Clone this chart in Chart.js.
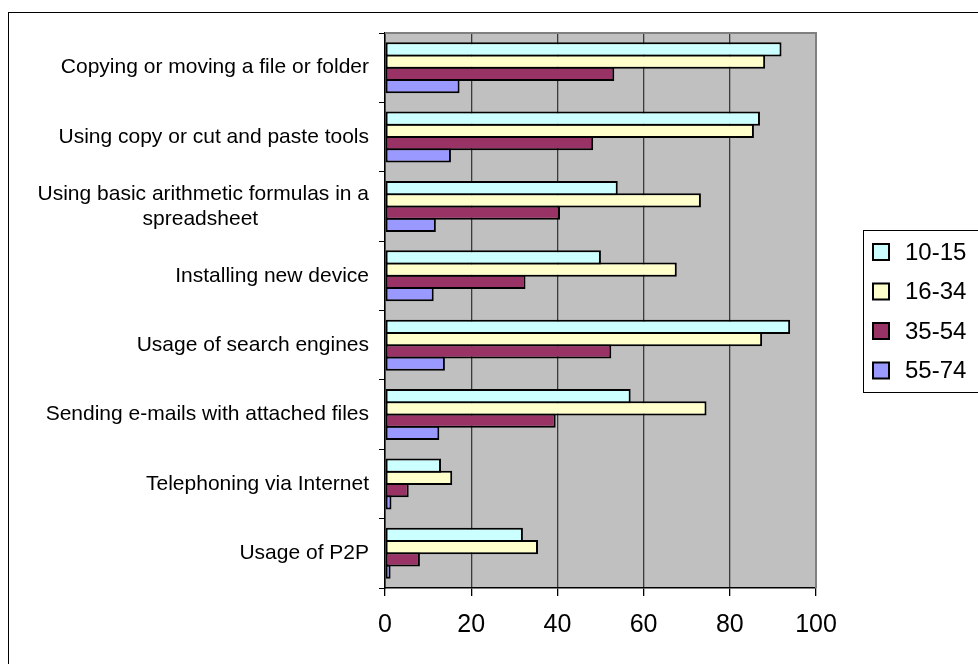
<!DOCTYPE html>
<html><head><meta charset="utf-8">
<script src="https://cdn.jsdelivr.net/npm/chart.js@4/dist/chart.umd.min.js"></script>
<style>html,body{margin:0;padding:0;background:#fff;overflow:hidden}</style>
</head><body>
<canvas id="c" width="978" height="664" style="display:block;width:978px;height:664px"></canvas>
<script>
const categories = [
  'Copying or moving a file or folder',
  'Using copy or cut and paste tools',
  ['Using basic arithmetic formulas in a', 'spreadsheet'],
  'Installing new device',
  'Usage of search engines',
  'Sending e-mails with attached files',
  'Telephoning via Internet',
  'Usage of P2P'
];
const seriesNames = ['10-15', '16-34', '35-54', '55-74'];
const age10to15 = [92.0, 87.0, 54.0, 50.1, 94.0, 57.0, 13.0, 32.0];
const age16to34 = [88.2, 85.6, 73.3, 67.7, 87.5, 74.6, 15.6, 35.5];
const age35to54 = [53.2, 48.3, 40.6, 32.6, 52.5, 39.6, 5.5, 8.1];
const age55to74 = [17.3, 15.3, 11.8, 11.3, 13.9, 12.6, 1.5, 1.3];
const xTickValues = [0, 20, 40, 60, 80, 100];

const seriesValues = [age10to15, age16to34, age35to54, age55to74];
const seriesColors = ['#CCFFFF', '#FFFFCC', '#993366', '#9999FF'];
const FONT = "'Liberation Sans', Arial, sans-serif";
const CAT_SIZE = 21;

const measureCtx = document.createElement('canvas').getContext('2d');
measureCtx.font = CAT_SIZE + 'px ' + FONT;
function centerLines(lines) {
  if (!Array.isArray(lines)) return lines;
  const widths = lines.map(l => measureCtx.measureText(l).width);
  const maxW = Math.max(...widths);
  const sp = measureCtx.measureText(' ').width;
  return lines.map((l, i) => l + ' '.repeat(Math.round((maxW - widths[i]) / 2 / sp)));
}

const decorPlugin = {
  id: 'decor',
  beforeDraw(chart) {
    const {ctx, chartArea: a} = chart;
    ctx.save();
    ctx.fillStyle = '#C0C0C0';
    ctx.fillRect(a.left, a.top, a.right - a.left, a.bottom - a.top);
    // outer chart border (only top/left visible)
    ctx.strokeStyle = '#000';
    ctx.lineWidth = 1;
    ctx.strokeRect(8.5, 12.5, 1100, 1000);
    ctx.restore();
  },
  beforeDatasetsDraw(chart) {
    const {ctx, chartArea: a} = chart;
    ctx.save();
    ctx.strokeStyle = '#808080';
    ctx.lineWidth = 2;
    ctx.beginPath();
    ctx.moveTo(a.left, a.top);
    ctx.lineTo(a.right, a.top);
    ctx.lineTo(a.right, a.bottom);
    ctx.stroke();
    ctx.restore();
  },
  afterDraw(chart) {
    const {ctx} = chart;
    ctx.save();
    const boxX = 863, boxY = 230.5, rowGap = 39.5, firstRow = 252;
    ctx.fillStyle = '#fff';
    ctx.strokeStyle = '#000';
    ctx.lineWidth = 1;
    ctx.fillRect(boxX, boxY, 200, firstRow - boxY + rowGap * 3 + 22);
    ctx.strokeRect(boxX + 0.5, boxY, 200, firstRow - boxY + rowGap * 3 + 22);
    ctx.font = '24px ' + FONT;
    ctx.textBaseline = 'middle';
    ctx.textAlign = 'left';
    chart.data.datasets.forEach((ds, i) => {
      const y = firstRow + i * rowGap;
      ctx.fillStyle = ds.backgroundColor;
      ctx.fillRect(873, y - 8, 16, 16);
      ctx.lineWidth = 2;
      ctx.strokeStyle = '#000';
      ctx.strokeRect(873, y - 8, 16, 16);
      ctx.fillStyle = '#000';
      ctx.fillText(ds.label, 905, y + 1);
    });
    ctx.restore();
  }
};

new Chart(document.getElementById('c'), {
  type: 'bar',
  data: {
    labels: categories,
    datasets: seriesNames.map((name, i) => ({
      label: name,
      data: seriesValues[i],
      backgroundColor: seriesColors[i],
      borderColor: '#000',
      borderWidth: 2,
      borderSkipped: false,
      categoryPercentage: 0.706,
      barPercentage: 1.163
    }))
  },
  options: {
    indexAxis: 'y',
    responsive: false,
    animation: false,
    devicePixelRatio: 1,
    layout: {padding: {left: 0, right: 162, top: 33, bottom: 0}},
    plugins: {legend: {display: false}, tooltip: {enabled: false}},
    scales: {
      x: {
        min: 0, max: 100,
        afterBuildTicks: axis => { axis.ticks = xTickValues.map(v => ({value: v})); },
        afterFit: s => { s.height = 76; },
        grid: {
          color: ctx => (ctx.tick && ctx.tick.value === 100) ? '#808080' : '#3a3a3a',
          lineWidth: 1.3,
          tickLength: 8,
          tickColor: '#000',
          drawTicks: true
        },
        border: {display: true, color: '#000', width: 1.5},
        ticks: {color: '#000', font: {family: FONT, size: 25}, padding: 14, maxRotation: 0}
      },
      y: {
        afterFit: s => { s.width = 385; },
        grid: {display: true, drawOnChartArea: false, offset: true, tickLength: 6, tickColor: '#000', color: '#000'},
        border: {display: true, color: '#000', width: 1.5},
        ticks: {
          color: '#000',
          font: {family: FONT, size: CAT_SIZE, lineHeight: 1.2},
          padding: 10,
          autoSkip: false,
          callback: function (value) { return centerLines(this.getLabelForValue(value)); }
        }
      }
    }
  },
  plugins: [decorPlugin]
});
</script>
</body></html>
